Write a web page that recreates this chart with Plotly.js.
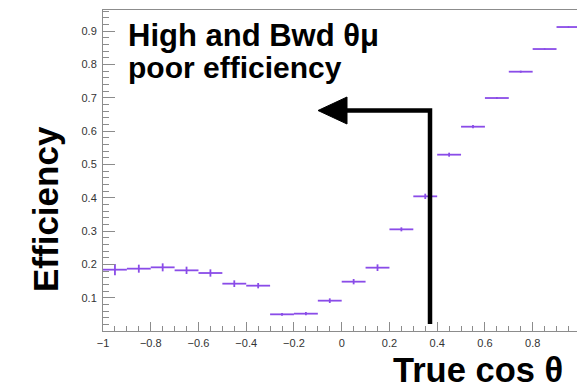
<!DOCTYPE html>
<html>
<head>
<meta charset="utf-8">
<script src="https://cdn.plot.ly/plotly-3.0.1.min.js"></script>
<style>
  html, body { margin: 0; padding: 0; background: #fff; }
  #chart { width: 577px; height: 390px; }
</style>
</head>
<body>
<div id="chart"></div>
<script>
// Reconstruction efficiency versus true cos(theta), 20 bins of width 0.1
const binCenters = [-0.95, -0.85, -0.75, -0.65, -0.55, -0.45, -0.35, -0.25, -0.15, -0.05,
                     0.05,  0.15,  0.25,  0.35,  0.45,  0.55,  0.65,  0.75,  0.85,  0.95];
const efficiency = [0.184, 0.187, 0.191, 0.182, 0.174, 0.142, 0.136, 0.050, 0.052, 0.091,
                    0.148, 0.190, 0.305, 0.404, 0.529, 0.613, 0.699, 0.778, 0.846, 0.912];
const effError   = [0.017, 0.012, 0.012, 0.011, 0.011, 0.010, 0.008, 0.004, 0.005, 0.007,
                    0.008, 0.010, 0.006, 0.008, 0.006, 0.005, 0.003, 0.003, 0.002, 0.002];
const binHalfWidth = binCenters.map(() => 0.05);

const yTickVals = [0.1, 0.2, 0.3, 0.4, 0.5, 0.6, 0.7, 0.8, 0.9];
const yTickText = ['0.1', '0.2', '0.3', '0.4', '0.5', '0.6', '0.7', '0.8', '0.9'];

const annotationLine1 = '<b>High and Bwd θμ</b>';
const annotationLine2 = '<b>poor efficiency</b>';
const xTitle = '<b>True cos θ</b>';
const yTitle = '<b>Efficiency</b>';

// page geometry (pixels) and conversion to paper coordinates
const W = 577, H = 390;
const M = { l: 103, r: 0, t: 10, b: 59 };
const PW = W - M.l - M.r, PH = H - M.t - M.b;
const px = x => (x - M.l) / PW;
const py = y => (H - M.b - y) / PH;

const purple = '#8a4ce8';
const axisGrey = '#8c8c8c';
const labelFont = { family: 'Liberation Sans, Arial, sans-serif', size: 11, color: '#333' };
const boldFont = size => ({ family: 'Liberation Sans, Arial, sans-serif', size: size, color: '#000' });

const trace = {
  type: 'scatter',
  mode: 'markers',
  x: binCenters,
  y: efficiency,
  marker: { size: 1, color: purple },
  error_x: { type: 'data', array: binHalfWidth, color: purple, thickness: 1.8, width: 0 },
  error_y: { type: 'data', array: effError, color: purple, thickness: 1.8, width: 0 },
  hoverinfo: 'x+y'
};

// arrow: vertical stem, horizontal run to the left, filled head
const ax0 = 430, ayBottom = 324, ayTop = 110.5, axEnd = 344;
const stem = `M ${px(ax0)} ${py(ayBottom)} L ${px(ax0)} ${py(ayTop)} L ${px(axEnd)} ${py(ayTop)}`;
const head = `M ${px(318)} ${py(ayTop)} L ${px(347)} ${py(97)} L ${px(347)} ${py(124)} Z`;

const layout = {
  width: W, height: H,
  margin: M,
  paper_bgcolor: '#fff',
  plot_bgcolor: '#fff',
  showlegend: false,
  xaxis: {
    range: [-1, -1 + PW / 238.7],
    tick0: -1, dtick: 0.2,
    ticks: 'inside', ticklen: 9, tickwidth: 1, tickcolor: axisGrey,
    minor: { dtick: 0.05, tick0: -1, ticks: 'inside', ticklen: 5, tickwidth: 1, tickcolor: axisGrey, showgrid: false },
    showline: true, linecolor: axisGrey, linewidth: 1, mirror: true,
    showgrid: false, zeroline: false,
    tickfont: labelFont,
    ticklabelstandoff: 2
  },
  yaxis: {
    range: [0, PH / 333.3],
    tickmode: 'array', tickvals: yTickVals, ticktext: yTickText,
    ticks: 'inside', ticklen: 12, tickwidth: 1, tickcolor: axisGrey,
    minor: { dtick: 0.02, tick0: 0, ticks: 'inside', ticklen: 6, tickwidth: 1, tickcolor: axisGrey, showgrid: false },
    showline: true, linecolor: axisGrey, linewidth: 1,
    showgrid: false, zeroline: false,
    tickfont: labelFont,
    ticklabelstandoff: 3
  },
  shapes: [
    { type: 'path', xref: 'paper', yref: 'paper', path: stem,
      line: { color: '#000', width: 4.5 }, layer: 'above' },
    { type: 'path', xref: 'paper', yref: 'paper', path: head,
      fillcolor: '#000', line: { color: '#000', width: 1 }, layer: 'above' }
  ],
  annotations: [
    { text: annotationLine1, xref: 'paper', yref: 'paper', x: px(126), y: py(35),
      xanchor: 'left', yanchor: 'middle', showarrow: false, font: boldFont(31) },
    { text: annotationLine2, xref: 'paper', yref: 'paper', x: px(126), y: py(67),
      xanchor: 'left', yanchor: 'middle', showarrow: false, font: boldFont(30) },
    { text: xTitle, xref: 'paper', yref: 'paper', x: px(564), y: py(370),
      xanchor: 'right', yanchor: 'middle', showarrow: false, font: boldFont(34.5),
      borderpad: 0 },
    { text: yTitle, xref: 'paper', yref: 'paper', x: px(45), y: py(209),
      xanchor: 'center', yanchor: 'middle', textangle: -90, showarrow: false, font: boldFont(35) }
  ]
};

Plotly.newPlot('chart', [trace], layout, { displayModeBar: false, staticPlot: true });
</script>
</body>
</html>
